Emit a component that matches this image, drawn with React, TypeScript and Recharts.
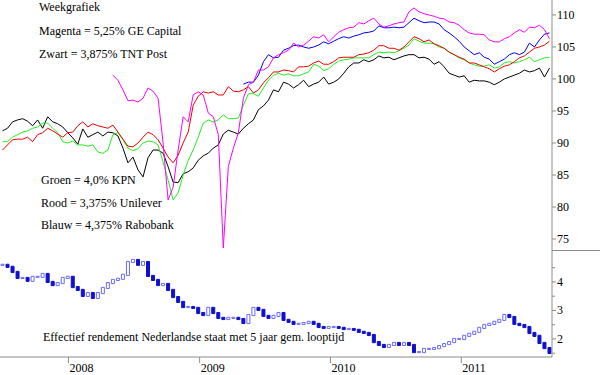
import { Bar, Cell, ComposedChart, Line, XAxis, YAxis } from 'recharts'

// two-weekly closes, first point 1 July 2007
const START = Date.UTC(2007, 6, 1)
const STEP = 14 * 86400000
const X_DOMAIN = [Date.UTC(2007, 5, 24), Date.UTC(2011, 8, 11)]
const YEARS = [2008, 2009, 2010, 2011]

// Zwart = 3,875% TNT Post
const tntPost = [
  91.9, 92.3, 93.3, 93.6, 93.8, 93.4, 92.7, 93.6, 92.3, 94.1,
  93.3, 93.0, 92.5, 91.6, 90.8, 89.8, 92.2, 90.9, 91.3, 91.7,
  91.1, 91.7, 91.6, 91.1, 89.2, 86.9, 87.8, 85.8, 84.7, 87.7,
  88.9, 88.9, 88.4, 86.3, 83.9, 83.8, 85.2, 85.5, 86.1, 87.3,
  88.0, 88.4, 89.2, 89.7, 91.4, 92.0, 91.7, 91.4, 92.3, 93.0,
  93.6, 95.2, 95.8, 96.7, 98.3, 98.0, 99.5, 99.2, 98.6, 99.1,
  99.8, 98.8, 99.2, 99.5, 100.3, 99.2, 99.5, 100.0, 100.9, 101.9,
  102.5, 102.5, 103.0, 102.7, 103.0, 103.6, 103.3, 103.4, 103.0, 103.3,
  103.6, 103.8, 103.8, 103.3, 103.4, 103.1, 102.3, 102.7, 101.9, 100.9,
  100.6, 100.3, 100.5, 99.5, 99.8, 99.7, 99.7, 99.5, 99.1, 99.5,
  100.0, 100.3, 100.6, 100.9, 101.4, 101.1, 101.3, 101.7, 100.3, 101.7,
]

// Rood = 3,375% Unilever
const unilever = [
  88.9, 89.7, 90.5, 90.6, 90.6, 90.9, 90.2, 91.3, 91.6, 92.3,
  91.9, 91.4, 90.9, 91.6, 91.7, 92.7, 93.3, 92.5, 93.0, 92.7,
  92.5, 92.3, 92.8, 91.7, 90.6, 89.5, 89.4, 90.0, 90.9, 91.7,
  91.3, 90.5, 89.2, 87.8, 86.9, 88.1, 90.0, 91.7, 95.9, 97.3,
  98.0, 97.8, 98.0, 97.5, 97.5, 98.8, 98.1, 98.0, 98.3, 98.8,
  97.8, 98.3, 99.4, 100.2, 101.1, 101.1, 101.4, 101.3, 101.1, 101.9,
  101.9, 102.0, 102.5, 102.8, 102.3, 102.3, 102.7, 103.3, 103.4, 103.4,
  103.4, 103.8, 103.9, 104.1, 104.5, 105.2, 105.2, 104.8, 104.8, 104.5,
  105.0, 105.8, 106.6, 106.3, 105.8, 106.1, 105.5, 105.2, 104.8, 104.2,
  103.8, 103.4, 103.1, 102.5, 102.5, 102.2, 101.9, 101.6, 101.1, 101.6,
  102.0, 102.2, 102.7, 103.3, 103.6, 104.2, 104.8, 105.0, 105.3, 105.9,
]

// Groen = 4,0% KPN
const kpn = [
  90.2, 90.2, 90.9, 91.3, 91.7, 91.9, 92.3, 92.5, 93.1, 93.1,
  92.3, 91.6, 90.2, 90.0, 90.3, 89.7, 89.7, 89.5, 89.7, 88.6,
  88.4, 88.9, 91.3, 91.6, 90.5, 89.2, 88.8, 89.1, 90.0, 90.3,
  90.2, 89.7, 87.0, 84.2, 81.1, 82.2, 85.0, 87.3, 88.9, 90.9,
  93.1, 93.6, 93.3, 93.6, 94.4, 93.8, 93.8, 93.9, 95.9, 97.7,
  97.7, 97.3, 98.6, 99.8, 100.6, 100.9, 100.6, 100.8, 100.5, 100.5,
  100.8, 101.1, 102.3, 102.0, 101.3, 101.6, 102.3, 102.8, 103.0, 103.1,
  103.3, 103.3, 103.3, 103.3, 103.8, 104.2, 104.1, 104.2, 104.1, 104.4,
  104.8, 105.3, 106.3, 105.9, 105.6, 105.6, 105.5, 105.0, 104.8, 104.2,
  103.8, 103.3, 103.0, 102.5, 102.2, 102.0, 102.0, 102.2, 101.7, 101.9,
  102.5, 102.7, 102.5, 102.7, 103.0, 103.4, 102.7, 103.0, 103.3, 103.4,
]

// Blauw = 4,375% Rabobank, first quote at point 48
const RABO_START = 48
const rabobank = [
  99.2, 99.5, 99.5, 100.6, 102.7, 103.8, 103.3, 103.4, 104.5, 104.8,
  105.2, 105.3, 105.0, 104.8, 105.0, 105.3, 105.8, 105.5, 105.9, 106.3,
  106.6, 106.4, 106.7, 106.9, 107.2, 107.3, 107.5, 108.3, 108.0, 108.0,
  108.1, 108.0, 108.1, 108.8, 109.5, 109.1, 108.8, 108.9, 108.9, 108.6,
  107.7, 107.2, 106.6, 105.9, 105.0, 104.4, 103.8, 104.1, 103.4, 103.1,
  102.3, 102.7, 103.1, 103.8, 104.1, 103.8, 104.2, 105.6, 105.0, 106.1,
  107.0, 107.2,
]

// Magenta = 5,25% GE Capital, first quote at point 22
const GE_START = 22
const geCapital = [
  100.6, 99.8, 98.3, 96.6, 96.7, 96.4, 97.0, 98.6, 98.1, 97.0,
  90.0, 81.1, 83.1, 88.9, 94.1, 93.3, 97.5, 98.0, 97.5, 94.7,
  94.1, 91.3, 73.6, 86.3, 89.2, 91.6, 97.0, 99.1, 99.5, 101.4,
  101.4, 101.9, 103.3, 103.8, 104.1, 104.5, 105.6, 105.0, 105.3, 105.9,
  106.6, 106.4, 106.9, 105.8, 106.6, 107.3, 107.7, 108.0, 108.1, 108.8,
  108.6, 109.1, 109.5, 108.6, 108.1, 108.3, 108.6, 108.8, 108.9, 110.5,
  111.1, 110.5, 110.2, 110.0, 109.8, 109.5, 109.4, 108.9, 108.8, 108.4,
  107.7, 107.2, 107.0, 107.0, 106.9, 106.1, 105.8, 105.8, 106.3, 106.6,
  107.2, 107.7, 107.3, 108.1, 108.0, 108.4, 107.7, 106.3,
]

// Effectief rendement Nederlandse staat, 5 jaar
const yieldNl = [
  4.6, 4.53, 4.35, 4.14, 4.14, 4.04, 4.18, 4.18, 4.28, 4.0,
  3.89, 3.96, 4.14, 4.18, 3.82, 3.72, 3.51, 3.61, 3.44, 3.61,
  3.79, 3.96, 4.07, 4.11, 4.25, 4.7, 4.77, 4.6, 4.7, 4.21,
  4.07, 3.89, 3.93, 3.72, 3.47, 3.3, 3.12, 3.12, 3.09, 2.91,
  2.84, 3.09, 2.91, 2.74, 2.7, 2.74, 2.74, 2.7, 2.56, 2.84,
  3.09, 3.02, 2.81, 2.74, 2.81, 2.91, 2.67, 2.6, 2.53, 2.53,
  2.56, 2.6, 2.53, 2.42, 2.39, 2.42, 2.42, 2.39, 2.35, 2.35,
  2.32, 2.25, 2.21, 2.14, 1.89, 1.79, 1.72, 1.79, 1.86, 1.79,
  1.86, 1.79, 1.54, 1.54, 1.65, 1.65, 1.68, 1.75, 1.82, 1.89,
  2.0, 2.0, 2.11, 2.18, 2.25, 2.39, 2.49, 2.53, 2.6, 2.67,
  2.84, 2.77, 2.53, 2.49, 2.42, 2.21, 2.11, 1.86, 1.68, 1.51,
]

const priceTicks = [75, 80, 85, 90, 95, 100, 105, 110]
const yieldTicks = [1.5, 2, 2.5, 3, 3.5, 4, 4.5]

const topLabels = ['Weekgrafiek', 'Magenta = 5,25% GE Capital', 'Zwart = 3,875% TNT Post']
const midLabels = ['Groen = 4,0% KPN', 'Rood = 3,375% Unilever', 'Blauw = 4,375% Rabobank']
const yieldLabel = 'Effectief rendement Nederlandse staat met 5 jaar gem. looptijd'

const FONT = "'Liberation Serif', 'Times New Roman', serif"
const AXIS = '#8c8c8c'
const txt = { fontFamily: FONT, fontSize: 12 }

const rows = tntPost.map((v, i) => {
  const prev = i > 0 ? yieldNl[i - 1] : yieldNl[i]
  const cur = yieldNl[i]
  return {
    t: START + i * STEP,
    black: v,
    red: unilever[i],
    green: kpn[i],
    blue: i >= RABO_START ? rabobank[i - RABO_START] : null,
    magenta: i >= GE_START ? geCapital[i - GE_START] : null,
    range: [Math.min(prev, cur) - 0.02, Math.max(prev, cur) + 0.02],
    up: cur >= prev,
  }
})

function PriceTick({ x, y, payload }: any) {
  return (
    <g>
      <line x1={x} x2={x + 4} y1={y} y2={y} stroke={AXIS} />
      <text x={x + 5} y={y + 4} style={txt} fill="#000">
        {payload.value}
      </text>
    </g>
  )
}

function YieldTick({ x, y, payload }: any) {
  const major = Number.isInteger(payload.value)
  return (
    <g>
      <line x1={x} x2={x + (major ? 4 : 3)} y1={y} y2={y} stroke={AXIS} />
      {major && (
        <text x={x + 5} y={y + 4} style={txt} fill="#000">
          {payload.value}
        </text>
      )}
    </g>
  )
}

function YearTick({ x, y, payload }: any) {
  return (
    <g>
      <line x1={x} x2={x} y1={y} y2={y + 6} stroke={AXIS} />
      <text x={x + 1} y={y + 15} style={txt} fill="#000">
        {new Date(payload.value).getUTCFullYear()}
      </text>
    </g>
  )
}

const lineProps = {
  type: 'linear' as const,
  strokeWidth: 1,
  dot: false,
  activeDot: false,
  isAnimationActive: false,
}

export default function App() {
  return (
    <div style={{ position: 'fixed', left: 0, top: 0, width: 600, height: 375, background: '#fff' }}>
      <div style={{ position: 'absolute', left: 0, top: 0 }}>
        <ComposedChart width={600} height={250} data={rows} margin={{ top: 0, right: 0, bottom: 0, left: 0 }}>
          <XAxis dataKey="t" type="number" domain={X_DOMAIN} hide />
          <YAxis
            orientation="right"
            width={48}
            domain={[73.28, 112.34]}
            ticks={priceTicks}
            interval={0}
            allowDataOverflow
            axisLine={{ stroke: AXIS }}
            tickLine={false}
            tickSize={0}
            tickMargin={0}
            tick={<PriceTick />}
          />
          <Line {...lineProps} dataKey="black" stroke="#000000" />
          <Line {...lineProps} dataKey="green" stroke="#22ee22" />
          <Line {...lineProps} dataKey="red" stroke="#ee0000" />
          <Line {...lineProps} dataKey="blue" stroke="#0000ee" />
          <Line {...lineProps} dataKey="magenta" stroke="#ff00ff" />
        </ComposedChart>
      </div>

      <div style={{ position: 'absolute', left: 552, top: 250, width: 48, borderTop: `1px solid ${AXIS}` }} />

      <div style={{ position: 'absolute', left: 0, top: 250 }}>
        <ComposedChart width={600} height={125} data={rows} margin={{ top: 0, right: 0, bottom: 0, left: 0 }}>
          <XAxis
            dataKey="t"
            type="number"
            domain={X_DOMAIN}
            ticks={YEARS.map((y) => Date.UTC(y, 0, 1))}
            interval={0}
            height={18}
            axisLine={{ stroke: AXIS }}
            tickLine={false}
            tickSize={0}
            tickMargin={0}
            tick={<YearTick />}
          />
          <YAxis
            orientation="right"
            width={48}
            domain={[1.368, 5.12]}
            ticks={yieldTicks}
            interval={0}
            allowDataOverflow
            axisLine={{ stroke: AXIS }}
            tickLine={false}
            tickSize={0}
            tickMargin={0}
            tick={<YieldTick />}
          />
          <Bar dataKey="range" barSize={3} isAnimationActive={false}>
            {rows.map((r, i) => (
              <Cell
                key={i}
                fill={r.up ? '#ffffff' : '#1010cc'}
                stroke={r.up ? '#6a6aff' : '#1010cc'}
                strokeWidth={1}
              />
            ))}
          </Bar>
        </ComposedChart>
      </div>

      <svg width={600} height={375} style={{ position: 'absolute', left: 0, top: 0, pointerEvents: 'none' }}>
        {topLabels.map((s, i) => (
          <text key={s} x={39} y={11 + i * 23.5} style={txt} fill="#000">
            {s}
          </text>
        ))}
        {midLabels.map((s, i) => (
          <text key={s} x={41} y={184 + i * 22.5} style={txt} fill="#000">
            {s}
          </text>
        ))}
        <text x={43} y={341} style={txt} fill="#000">
          {yieldLabel}
        </text>
      </svg>
    </div>
  )
}
